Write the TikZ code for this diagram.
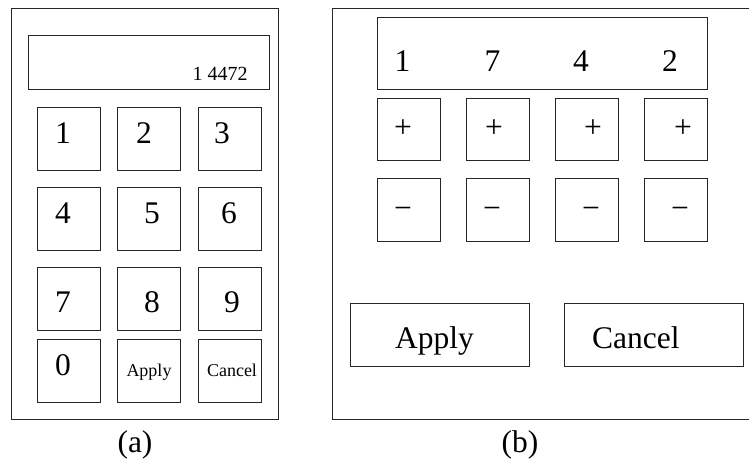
\documentclass[tikz,border=0pt]{standalone}
\usepackage{fontspec}
\setmainfont{Liberation Serif}
\begin{document}
\begin{tikzpicture}[x=1pt,y=-1pt,
  outline/.style={draw=black!85,line width=0.8pt,inner sep=0pt,anchor=north west},
  keybox/.style={outline,minimum width=63pt,minimum height=62.5pt},
  big/.style={font=\fontsize{31.5}{36}\selectfont,inner sep=0pt,anchor=base},
  small/.style={font=\fontsize{18}{21}\selectfont,inner sep=0pt,anchor=base},
  disp/.style={font=\fontsize{20}{24}\selectfont,inner sep=0pt,anchor=base}]
\useasboundingbox (0,0) rectangle (749,458);

% ---------- (a) keypad entry ----------
\node[outline,minimum width=267.5pt,minimum height=411pt] (fa) at (10.5,8) {};
\node[outline,minimum width=240.7pt,minimum height=54pt] (da) at (28.3,35) {};
\node[disp] (dtext) at (220,80) {1 4472};

% key grid
\foreach \c/\x in {1/37,2/117,3/198}
  \foreach \r/\y in {1/107,2/187,3/267,4/339}
    \node[keybox] (k\r\c) at (\x,\y) {};

\node[big] (l1) at (63,143) {1};
\node[big] (l2) at (144,143) {2};
\node[big] (l3) at (222,143) {3};
\node[big] (l4) at (63,223) {4};
\node[big] (l5) at (152,223) {5};
\node[big] (l6) at (229,223) {6};
\node[big] (l7) at (63,312) {7};
\node[big] (l8) at (152,312) {8};
\node[big] (l9) at (232,312) {9};
\node[big] (l0) at (63,375) {0};
\node[small] (lapply) at (149,376) {Apply};
\node[small] (lcancel) at (232,376) {Cancel};

\node[big] (capa) at (135,452.5) {(a)};

% ---------- (b) digit spinner entry ----------
\node[outline,minimum width=430pt,minimum height=411pt] (fb) at (332.3,8) {};
\node[outline,minimum width=330pt,minimum height=71.7pt] (db) at (376.7,17.3) {};
\node[big] (d1) at (402.5,71) {1};
\node[big] (d2) at (492.5,71) {7};
\node[big] (d3) at (581,71) {4};
\node[big] (d4) at (670,71) {2};

\foreach \i/\x in {1/376.7,2/465.7,3/555.3,4/644.3} {
  \node[keybox] (p\i) at (\x,97.7) {};
  \node[keybox] (m\i) at (\x,178.3) {};
}
\foreach \i/\x in {1/403,2/494,3/593,4/683}
  \node[big] (ps\i) at (\x,137) {+};
\foreach \i/\x in {1/403,2/492,3/591,4/680}
  \node[big] (ms\i) at (\x,218) {−};

\node[outline,minimum width=178.7pt,minimum height=62.7pt] (bapply) at (350,303.3) {};
\node[outline,minimum width=178.7pt,minimum height=62.7pt] (bcancel) at (564,303.3) {};
\node[big] (tapply) at (434.5,348.3) {Apply};
\node[big] (tcancel) at (635.8,348.3) {Cancel};

\node[big] (capb) at (520,452.5) {(b)};
\end{tikzpicture}
\end{document}
